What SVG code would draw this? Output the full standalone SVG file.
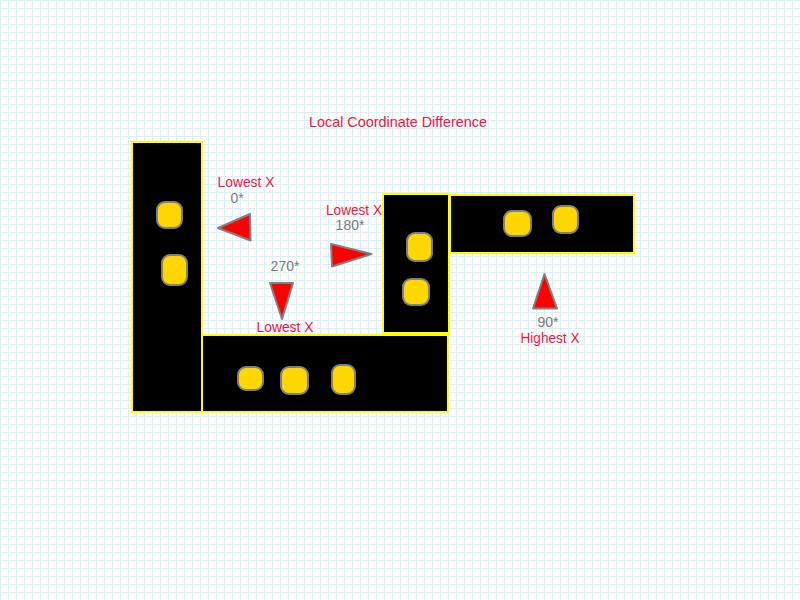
<svg xmlns="http://www.w3.org/2000/svg" width="800" height="600" viewBox="0 0 800 600">
<defs>
<pattern id="grid" width="8" height="8" patternUnits="userSpaceOnUse">
<path d="M0 0.5H8M0.5 0V8" stroke="#d2f1fc" stroke-width="1" fill="none"/>
</pattern>
<style>
.blk{fill:#000;stroke:#ffff00;stroke-width:2}
.pad{fill:#ffd700;stroke:#808080;stroke-width:2}
.tri{fill:#ff0000;stroke:#808080;stroke-width:2;stroke-linejoin:round}
.lbl{font-family:"Liberation Sans",Arial,sans-serif;font-size:14px;text-anchor:middle}
.red{fill:#f0143c}
.gray{fill:#7a7a7a}
</style>
</defs>
<rect width="800" height="600" fill="#fff"/>
<rect width="800" height="600" fill="url(#grid)"/>
<text class="lbl red" x="398" y="127" textLength="178" lengthAdjust="spacingAndGlyphs">Local Coordinate Difference</text>
<g id="block-left">
<rect class="blk" x="132" y="142" width="70" height="270"/>
<rect class="pad" x="157" y="202" width="25" height="26" rx="8"/>
<rect class="pad" x="162" y="255" width="25" height="30" rx="8"/>
</g>
<g id="block-bottom">
<rect class="blk" x="202" y="335" width="246" height="77"/>
<rect class="pad" x="238" y="367" width="25" height="23" rx="8"/>
<rect class="pad" x="281" y="367" width="27" height="27" rx="8"/>
<rect class="pad" x="332" y="365" width="23" height="29" rx="8"/>
</g>
<g id="block-middle">
<rect class="blk" x="383" y="194" width="66" height="139"/>
<rect class="pad" x="407" y="233" width="25" height="28" rx="8"/>
<rect class="pad" x="403" y="279" width="26" height="26" rx="8"/>
</g>
<g id="block-right">
<rect class="blk" x="450" y="195" width="184" height="58"/>
<rect class="pad" x="504" y="211" width="27" height="25" rx="8"/>
<rect class="pad" x="553" y="206" width="25" height="27" rx="8"/>
</g>
<g id="arrow-0">
<polygon class="tri" points="218,228 250,214 250.5,240.5"/>
<text class="lbl red" x="246" y="187" textLength="57" lengthAdjust="spacingAndGlyphs">Lowest X</text>
<text class="lbl gray" x="237" y="203">0*</text>
</g>
<g id="arrow-270">
<polygon class="tri" points="270,283 293,283 282,319"/>
<text class="lbl gray" x="285" y="271">270*</text>
<text class="lbl red" x="285" y="332" textLength="57" lengthAdjust="spacingAndGlyphs">Lowest X</text>
</g>
<g id="arrow-180">
<polygon class="tri" points="331,244 332,266.5 371.5,254"/>
<text class="lbl red" x="354" y="215" textLength="56" lengthAdjust="spacingAndGlyphs">Lowest X</text>
<text class="lbl gray" x="350" y="230">180*</text>
</g>
<g id="arrow-90">
<polygon class="tri" points="544.5,274 533,308.5 557,308.5"/>
<text class="lbl gray" x="548" y="327">90*</text>
<text class="lbl red" x="550" y="343" textLength="59" lengthAdjust="spacingAndGlyphs">Highest X</text>
</g>
</svg>
